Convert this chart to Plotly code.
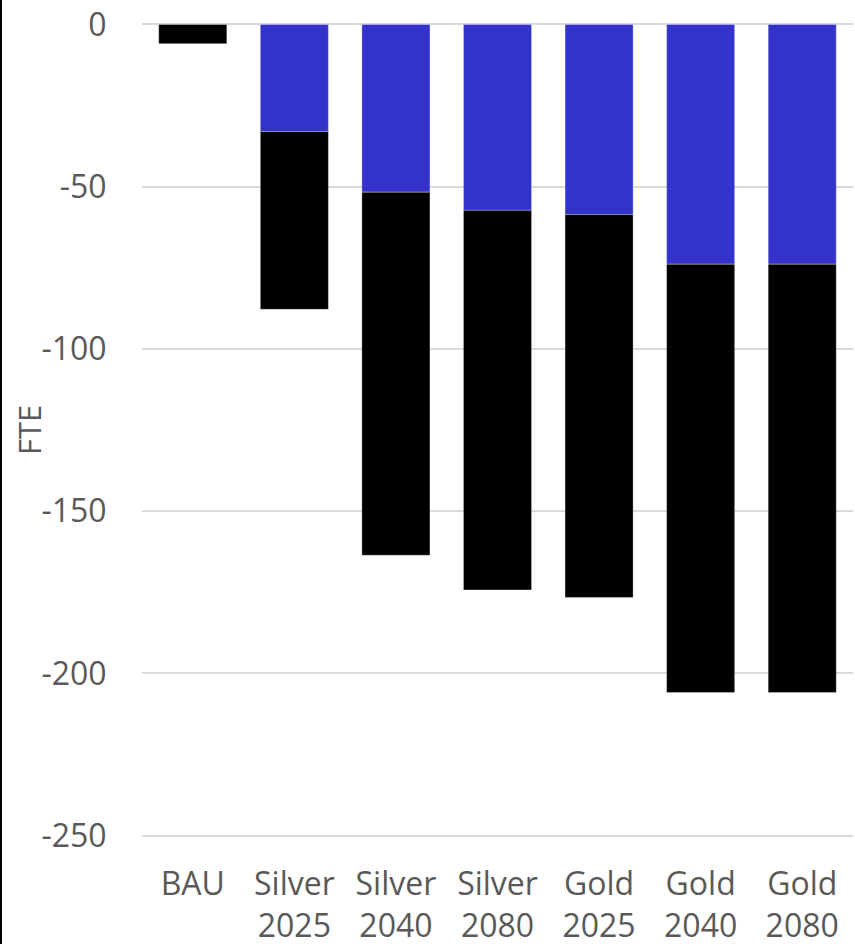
import plotly.graph_objects as go

# Scenario categories (two-line tick labels)
categories = ["BAU", "Silver<br>2025", "Silver<br>2040", "Silver<br>2080",
              "Gold<br>2025", "Gold<br>2040", "Gold<br>2080"]

# FTE change per scenario, split into the two stacked components
blue_part = [0.0, -33.0, -51.7, -57.3, -58.6, -73.9, -73.9]
black_part = [-5.9, -54.8, -111.9, -117.0, -118.0, -132.0, -132.0]

y_ticks = [0, -50, -100, -150, -200, -250]

FONT = "Open Sans"
GREY = "#595959"

W, H = 855, 944
M_L, M_R, M_T, M_B = 142, 2, 18, 102

fig = go.Figure()
fig.add_trace(go.Bar(
    x=categories, y=blue_part, marker_color="#3333CC",
    marker_line=dict(width=1, color="rgba(255,255,255,0.3)"),
))
fig.add_trace(go.Bar(
    x=categories, y=black_part, marker_color="#000000",
    marker_line=dict(width=1, color="rgba(255,255,255,0.3)"),
))

plot_w = W - M_L - M_R
plot_h = H - M_T - M_B

fig.update_layout(
    width=W, height=H,
    margin=dict(l=M_L, r=M_R, t=M_T, b=M_B, pad=0),
    barmode="relative",
    bargap=0.33,
    showlegend=False,
    plot_bgcolor="white",
    paper_bgcolor="white",
    font=dict(family=FONT, size=32, color=GREY),
    xaxis=dict(
        showgrid=False, showline=False, zeroline=False,
        ticks="outside", ticklen=14, tickcolor="rgba(0,0,0,0)",
        tickfont=dict(family=FONT, size=32, color=GREY),
        automargin=False,
    ),
    yaxis=dict(
        range=[-252, 2],
        tickvals=y_ticks,
        ticktext=[str(v) for v in y_ticks],
        showgrid=True, gridcolor="#D9D9D9", gridwidth=1.5,
        zeroline=False, showline=False,
        ticks="outside", ticklen=28, tickcolor="rgba(0,0,0,0)",
        tickfont=dict(family=FONT, size=32, color=GREY),
        automargin=False,
    ),
    annotations=[dict(
        text="FTE", textangle=-90,
        xref="paper", yref="paper",
        x=(29 - M_L) / plot_w, y=0.5,
        xanchor="center", yanchor="middle", showarrow=False,
        font=dict(family=FONT, size=31, color=GREY),
    )],
    shapes=[dict(
        type="line", xref="paper", yref="paper",
        x0=(1 - M_L) / plot_w, x1=(1 - M_L) / plot_w,
        y0=-M_B / plot_h, y1=1 + M_T / plot_h,
        line=dict(color="black", width=2),
    )],
)

fig.write_html("out.html")
